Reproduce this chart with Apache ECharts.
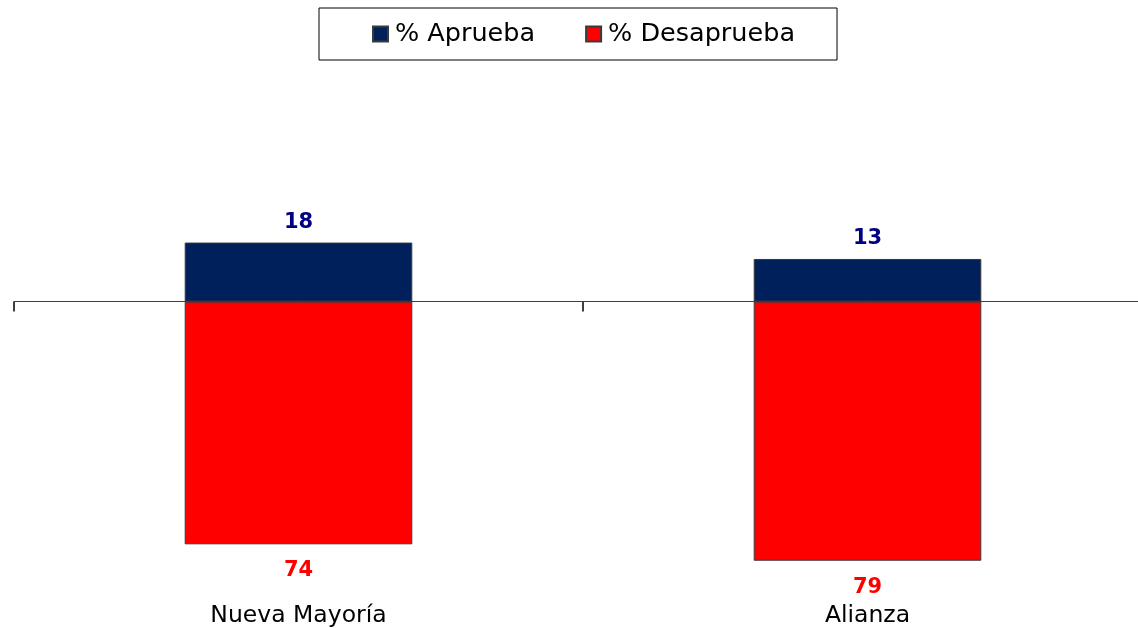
<!DOCTYPE html>
<html>
<head>
<meta charset="utf-8">
<script src="https://cdn.jsdelivr.net/npm/echarts@6/dist/echarts.min.js"></script>
<style>
  html, body { margin: 0; padding: 0; background: #fff; overflow: hidden; }
  /* the axis runs past the right edge in the original, so the canvas is a bit wider than the window */
  #chart { width: 1152px; height: 628px; }
</style>
</head>
<body>
<div id="chart"></div>
<script>
// data
const categories = ['Nueva Mayoría', 'Alianza']
const aprueba = [18, 13]
const desaprueba = [74, 79]

const chart = echarts.init(document.getElementById('chart'))
const font = 'DejaVu Sans'

chart.setOption({
  animation: false,
  legend: {
    left: 319,
    top: 8,
    data: ['% Aprueba', '% Desaprueba'],
    icon: 'rect',
    itemWidth: 15,
    itemHeight: 15,
    itemGap: 50,
    padding: [11, 42, 11, 53],
    borderColor: '#000',
    borderWidth: 1,
    textStyle: { fontFamily: font, fontSize: 25.5, color: '#000', lineHeight: 30, padding: [0, 0, 0, 2] }
  },
  grid: { left: 14, right: 0, top: 236, bottom: 64 },
  xAxis: [
    {
      type: 'category',
      data: categories,
      axisLine: { onZero: true, lineStyle: { color: '#404040', width: 1 } },
      axisTick: { show: true, length: 10, lineStyle: { color: '#404040', width: 2 } },
      axisLabel: { show: false }
    },
    {
      type: 'category',
      data: categories,
      position: 'bottom',
      axisLine: { show: false, onZero: false },
      axisTick: { show: false },
      axisLabel: { margin: 40, fontFamily: font, fontSize: 23.5, color: '#000' }
    }
  ],
  yAxis: {
    type: 'value',
    min: -80,
    max: 20,
    show: false,
    splitLine: { show: false }
  },
  series: [
    {
      name: '% Aprueba',
      type: 'bar',
      stack: 'total',
      barWidth: '40%',
      data: aprueba,
      itemStyle: { color: '#00205C', borderColor: '#3a3a3a', borderWidth: 1 },
      label: {
        show: true,
        position: 'top',
        distance: 10,
        fontFamily: font,
        fontWeight: 'bold',
        fontSize: 21,
        color: '#000080'
      }
    },
    {
      name: '% Desaprueba',
      type: 'bar',
      stack: 'total',
      barWidth: '40%',
      data: desaprueba.map(v => -v),
      itemStyle: { color: '#FF0000', borderColor: '#3a3a3a', borderWidth: 1 },
      label: {
        show: true,
        position: 'bottom',
        distance: 16,
        fontFamily: font,
        fontWeight: 'bold',
        fontSize: 21,
        color: '#FF0000',
        formatter: p => Math.abs(p.value)
      }
    }
  ]
})
</script>
</body>
</html>
